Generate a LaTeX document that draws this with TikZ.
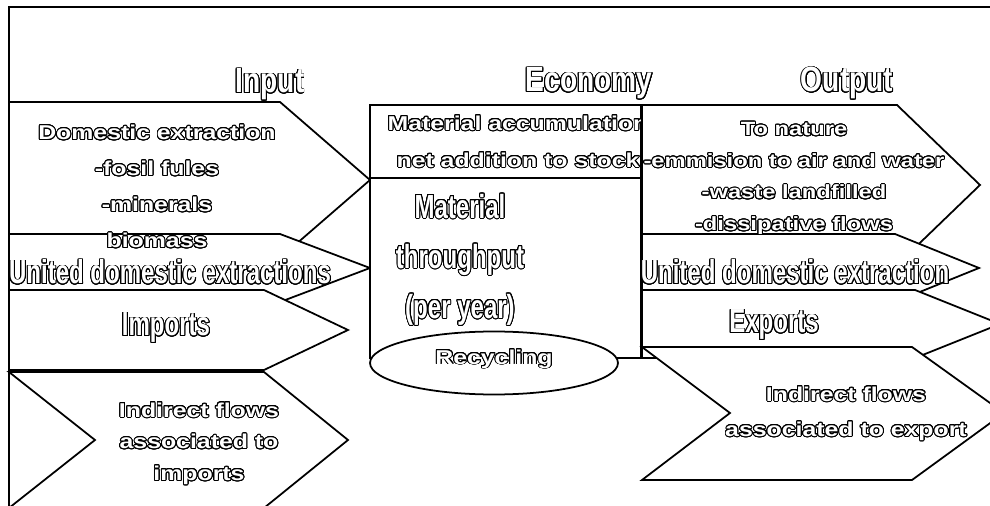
\documentclass[tikz,border=0pt]{standalone}
\usepackage{fontspec}
\usepackage{contour}
\newfontfamily\widefont[FakeStretch=1.24]{Liberation Sans Bold}
\newfontfamily\condfont[FakeStretch=0.72]{Liberation Sans Bold}
\newfontfamily\titlefont[FakeStretch=0.8]{Liberation Sans Bold}
\contourlength{0.55pt}
\contournumber{24}
\newcommand{\outl}[1]{\contour{black}{#1}}

\tikzset{
  flow/.style={draw=black, fill=white, line width=1pt, line join=miter},
  lbl/.style={text=white, inner sep=0pt, align=center},
  wide/.style={lbl, font=\widefont\fontsize{11.4}{#1}\selectfont},
  cond/.style={lbl, font=\condfont\fontsize{19}{#1}\selectfont},
  head/.style={lbl, anchor=base, font=\titlefont\fontsize{20}{24}\selectfont}
}

\begin{document}
\begin{tikzpicture}[x=0.02cm, y=-0.02cm]

    \clip (0,0) rectangle (990,506);
    \draw [line width=1pt] (9,520) -- (9,7) -- (1000,7);

    % headings
    \node [head] (input) at (270, 93) {\outl{Input}};
    \node [head] (economy) at (589, 92) {\outl{Economy}};
    \node [head] (output) at (847, 92) {\outl{Output}};

    % input side
    \filldraw [flow] (9,102) -- (280,102) -- (370,180) -- (280,258) -- (9,258) -- cycle;
    \filldraw [flow] (9,234) -- (280,234) -- (370,268) -- (280,302) -- (9,302) -- cycle;
    \node [wide=20.5] (dom) at (157, 187) {\outl{Domestic extraction}\\ \outl{-fosil fules}\\ \outl{-minerals}\\ \outl{biomass}};
    \node [cond=22, anchor=base] (udein) at (170, 284) {\outl{United domestic extractions}};
    \filldraw [flow] (9,290) -- (264,290) -- (348,330) -- (264,370) -- (9,370) -- cycle;
    \node [cond=22, anchor=base] (imp) at (166, 336) {\outl{Imports}};
    \filldraw [flow] (9,372) -- (264,372) -- (348,440) -- (264,508) -- (9,508) -- (95,440) -- cycle;
    \node [wide=18] (indimp) at (199, 444) {\outl{Indirect flows}\\ \outl{associated to}\\ \outl{imports}};

    % economy
    \filldraw [flow] (370,105) rectangle (641,358);
    \draw [line width=1pt] (370,178) -- (641,178);
    \node [wide=21] (acc) at (518, 142) {\outl{Material accumulation}\\ \outl{net addition to stock}};
    \node [cond=28.5] (thru) at (460, 260) {\outl{Material}\\ \outl{throughput}\\ \outl{(per year)}};
    \filldraw [flow] (494,363) ellipse [x radius=2.48cm, y radius=0.63cm];
    \node [wide=20, anchor=base] (recyc) at (494, 364) {\outl{Recycling}};

    % output side
    \filldraw [flow] (642,105) -- (897,105) -- (980,185) -- (897,265) -- (642,265) -- cycle;
    \filldraw [flow] (642,234) -- (895,234) -- (979,268) -- (895,302) -- (642,302) -- cycle;
    \node [wide=18, font=\widefont\fontsize{10.9}{18}\selectfont] (nature) at (794, 179) {\outl{To nature}\\ \outl{-emmision to air and water}\\ \outl{-waste landfilled}\\ \outl{-dissipative flows}};
    \node [cond=22, anchor=base] (udeout) at (795, 284) {\outl{United domestic extraction}};
    \filldraw [flow] (642,290) -- (915,290) -- (1000,324) -- (915,358) -- (642,358) -- cycle;
    \node [cond=22, anchor=base] (exp) at (774, 333) {\outl{Exports}};
    \filldraw [flow] (642,347) -- (912,347) -- (1004,413) -- (912,480) -- (642,480) -- (730,413) -- cycle;
    \node [wide=20] (indexp) at (846, 414) {\outl{Indirect flows}\\ \outl{associated to export}};

\end{tikzpicture}
\end{document}
